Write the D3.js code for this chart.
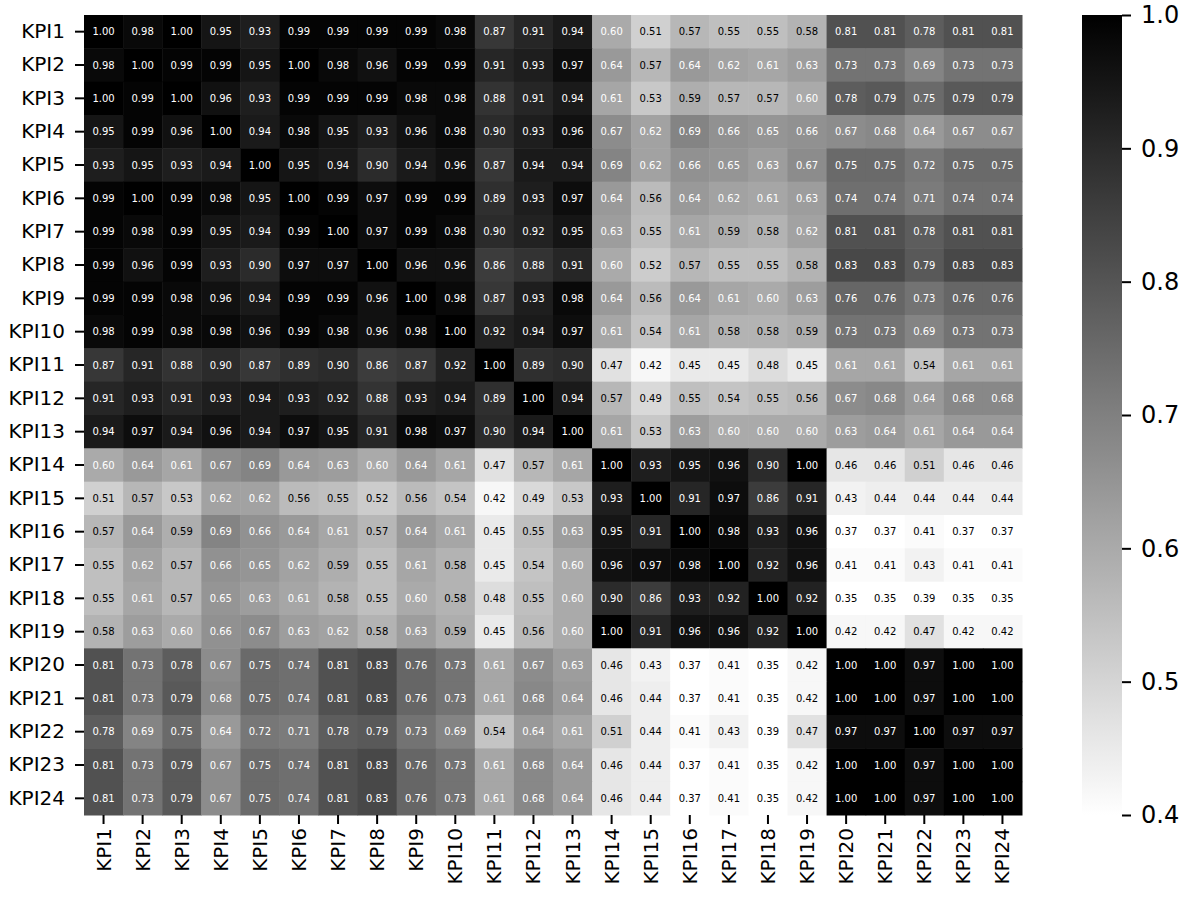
<!DOCTYPE html>
<html><head><meta charset="utf-8">
<script src="https://cdn.jsdelivr.net/npm/d3@7"></script>
<style>body{margin:0;background:#fff}svg{display:block}text{font-family:"DejaVu Sans",sans-serif}</style>
</head><body><svg id="c" width="1195" height="898"></svg>
<script>
const labels = ["KPI1","KPI2","KPI3","KPI4","KPI5","KPI6","KPI7","KPI8","KPI9","KPI10","KPI11","KPI12","KPI13","KPI14","KPI15","KPI16","KPI17","KPI18","KPI19","KPI20","KPI21","KPI22","KPI23","KPI24"];
const r1  = [1.00,0.98,1.00,0.95,0.93,0.99,0.99,0.99,0.99,0.98,0.87,0.91,0.94,0.60,0.51,0.57,0.55,0.55,0.58,0.81,0.81,0.78,0.81,0.81];
const r2  = [0.98,1.00,0.99,0.99,0.95,1.00,0.98,0.96,0.99,0.99,0.91,0.93,0.97,0.64,0.57,0.64,0.62,0.61,0.63,0.73,0.73,0.69,0.73,0.73];
const r3  = [1.00,0.99,1.00,0.96,0.93,0.99,0.99,0.99,0.98,0.98,0.88,0.91,0.94,0.61,0.53,0.59,0.57,0.57,0.60,0.78,0.79,0.75,0.79,0.79];
const r4  = [0.95,0.99,0.96,1.00,0.94,0.98,0.95,0.93,0.96,0.98,0.90,0.93,0.96,0.67,0.62,0.69,0.66,0.65,0.66,0.67,0.68,0.64,0.67,0.67];
const r5  = [0.93,0.95,0.93,0.94,1.00,0.95,0.94,0.90,0.94,0.96,0.87,0.94,0.94,0.69,0.62,0.66,0.65,0.63,0.67,0.75,0.75,0.72,0.75,0.75];
const r6  = [0.99,1.00,0.99,0.98,0.95,1.00,0.99,0.97,0.99,0.99,0.89,0.93,0.97,0.64,0.56,0.64,0.62,0.61,0.63,0.74,0.74,0.71,0.74,0.74];
const r7  = [0.99,0.98,0.99,0.95,0.94,0.99,1.00,0.97,0.99,0.98,0.90,0.92,0.95,0.63,0.55,0.61,0.59,0.58,0.62,0.81,0.81,0.78,0.81,0.81];
const r8  = [0.99,0.96,0.99,0.93,0.90,0.97,0.97,1.00,0.96,0.96,0.86,0.88,0.91,0.60,0.52,0.57,0.55,0.55,0.58,0.83,0.83,0.79,0.83,0.83];
const r9  = [0.99,0.99,0.98,0.96,0.94,0.99,0.99,0.96,1.00,0.98,0.87,0.93,0.98,0.64,0.56,0.64,0.61,0.60,0.63,0.76,0.76,0.73,0.76,0.76];
const r10 = [0.98,0.99,0.98,0.98,0.96,0.99,0.98,0.96,0.98,1.00,0.92,0.94,0.97,0.61,0.54,0.61,0.58,0.58,0.59,0.73,0.73,0.69,0.73,0.73];
const r11 = [0.87,0.91,0.88,0.90,0.87,0.89,0.90,0.86,0.87,0.92,1.00,0.89,0.90,0.47,0.42,0.45,0.45,0.48,0.45,0.61,0.61,0.54,0.61,0.61];
const r12 = [0.91,0.93,0.91,0.93,0.94,0.93,0.92,0.88,0.93,0.94,0.89,1.00,0.94,0.57,0.49,0.55,0.54,0.55,0.56,0.67,0.68,0.64,0.68,0.68];
const r13 = [0.94,0.97,0.94,0.96,0.94,0.97,0.95,0.91,0.98,0.97,0.90,0.94,1.00,0.61,0.53,0.63,0.60,0.60,0.60,0.63,0.64,0.61,0.64,0.64];
const r14 = [0.60,0.64,0.61,0.67,0.69,0.64,0.63,0.60,0.64,0.61,0.47,0.57,0.61,1.00,0.93,0.95,0.96,0.90,1.00,0.46,0.46,0.51,0.46,0.46];
const r15 = [0.51,0.57,0.53,0.62,0.62,0.56,0.55,0.52,0.56,0.54,0.42,0.49,0.53,0.93,1.00,0.91,0.97,0.86,0.91,0.43,0.44,0.44,0.44,0.44];
const r16 = [0.57,0.64,0.59,0.69,0.66,0.64,0.61,0.57,0.64,0.61,0.45,0.55,0.63,0.95,0.91,1.00,0.98,0.93,0.96,0.37,0.37,0.41,0.37,0.37];
const r17 = [0.55,0.62,0.57,0.66,0.65,0.62,0.59,0.55,0.61,0.58,0.45,0.54,0.60,0.96,0.97,0.98,1.00,0.92,0.96,0.41,0.41,0.43,0.41,0.41];
const r18 = [0.55,0.61,0.57,0.65,0.63,0.61,0.58,0.55,0.60,0.58,0.48,0.55,0.60,0.90,0.86,0.93,0.92,1.00,0.92,0.35,0.35,0.39,0.35,0.35];
const r19 = [0.58,0.63,0.60,0.66,0.67,0.63,0.62,0.58,0.63,0.59,0.45,0.56,0.60,1.00,0.91,0.96,0.96,0.92,1.00,0.42,0.42,0.47,0.42,0.42];
const r20 = [0.81,0.73,0.78,0.67,0.75,0.74,0.81,0.83,0.76,0.73,0.61,0.67,0.63,0.46,0.43,0.37,0.41,0.35,0.42,1.00,1.00,0.97,1.00,1.00];
const r21 = [0.81,0.73,0.79,0.68,0.75,0.74,0.81,0.83,0.76,0.73,0.61,0.68,0.64,0.46,0.44,0.37,0.41,0.35,0.42,1.00,1.00,0.97,1.00,1.00];
const r22 = [0.78,0.69,0.75,0.64,0.72,0.71,0.78,0.79,0.73,0.69,0.54,0.64,0.61,0.51,0.44,0.41,0.43,0.39,0.47,0.97,0.97,1.00,0.97,0.97];
const r23 = [0.81,0.73,0.79,0.67,0.75,0.74,0.81,0.83,0.76,0.73,0.61,0.68,0.64,0.46,0.44,0.37,0.41,0.35,0.42,1.00,1.00,0.97,1.00,1.00];
const r24 = [0.81,0.73,0.79,0.67,0.75,0.74,0.81,0.83,0.76,0.73,0.61,0.68,0.64,0.46,0.44,0.37,0.41,0.35,0.42,1.00,1.00,0.97,1.00,1.00];
const rows = [r1,r2,r3,r4,r5,r6,r7,r8,r9,r10,r11,r12,r13,r14,r15,r16,r17,r18,r19,r20,r21,r22,r23,r24];
const cbTicks = [0.4,0.5,0.6,0.7,0.8,0.9,1.0];

const svg = d3.select("#c");
const L = 84, T = 15, W = 938, H = 800;
const x = d3.scaleBand().domain(labels).range([L, L + W]);
const y = d3.scaleBand().domain(labels).range([T, T + H]);
const norm = d3.scaleLinear().domain([0.4, 1.0]).range([0, 1]).clamp(true);
const color = v => d3.interpolateRgb("#ffffff", "#000000")(norm(v));
function textColor(v) {
  const g = 1 - norm(v);
  const lin = g <= 0.03928 ? g / 12.92 : Math.pow((g + 0.055) / 1.055, 2.4);
  return lin > 0.408 ? "#000" : "#fff";
}

const cells = [];
rows.forEach((r, i) => r.forEach((v, j) => cells.push({row: labels[i], col: labels[j], v})));

const g = svg.append("g");
g.selectAll("rect").data(cells).join("rect")
  .attr("x", d => x(d.col)).attr("y", d => y(d.row))
  .attr("width", x.bandwidth() + 0.5).attr("height", y.bandwidth() + 0.5)
  .attr("fill", d => color(d.v));
g.selectAll("text").data(cells).join("text")
  .attr("x", d => x(d.col) + x.bandwidth() / 2)
  .attr("y", d => y(d.row) + y.bandwidth() / 2)
  .attr("text-anchor", "middle").attr("dy", "0.36em")
  .attr("font-size", 10).attr("fill", d => textColor(d.v))
  .text(d => d.v.toFixed(2));

// Y axis
const ya = svg.append("g").attr("transform", `translate(${L},0)`)
  .call(d3.axisLeft(y).tickSize(9).tickPadding(10));
ya.select(".domain").remove();
ya.selectAll(".tick line").attr("stroke", "#000").attr("stroke-width", 2);
ya.selectAll(".tick text").attr("font-size", 20).attr("fill", "#000").attr("font-family", "DejaVu Sans");

// X axis
const xa = svg.append("g").attr("transform", `translate(0,${T + H})`)
  .call(d3.axisBottom(x).tickSize(9).tickPadding(10));
xa.select(".domain").remove();
xa.selectAll(".tick line").attr("stroke", "#000").attr("stroke-width", 2);
xa.selectAll(".tick text").attr("font-size", 20).attr("fill", "#000").attr("font-family", "DejaVu Sans")
  .attr("transform", "rotate(-90)").attr("text-anchor", "end")
  .attr("x", -13).attr("y", 0).attr("dy", "0.35em");

// Colorbar
const CX = 1082, CW = 40;
const cy = d3.scaleLinear().domain([0.4, 1.0]).range([T + H, T]);
const defs = svg.append("defs");
const grad = defs.append("linearGradient").attr("id", "cbg").attr("x1", 0).attr("x2", 0).attr("y1", 1).attr("y2", 0);
d3.range(0, 1.0001, 0.05).forEach(t => grad.append("stop").attr("offset", t).attr("stop-color", color(0.4 + 0.6 * t)));
svg.append("rect").attr("x", CX).attr("y", T).attr("width", CW).attr("height", H).attr("fill", "url(#cbg)");
const ca = svg.append("g").attr("transform", `translate(${CX + CW},0)`)
  .call(d3.axisRight(cy).tickValues(cbTicks).tickFormat(d3.format(".1f")).tickSize(9).tickPadding(10));
ca.select(".domain").remove();
ca.selectAll(".tick line").attr("stroke", "#000").attr("stroke-width", 2);
ca.selectAll(".tick text").attr("font-size", 24).attr("fill", "#000").attr("font-family", "DejaVu Sans");
</script></body></html>
